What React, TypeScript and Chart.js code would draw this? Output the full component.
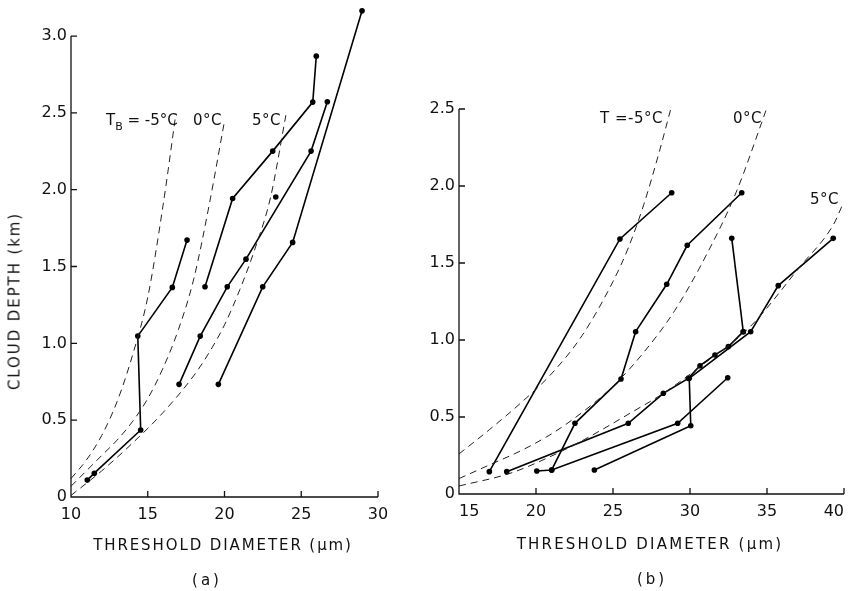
import React, { useEffect, useRef } from 'react';
import { Chart, registerables } from 'chart.js';

Chart.register(...registerables);

type P = [number, number];

// ---------- Panel (a): threshold diameter (µm) vs cloud depth (km) ----------
const aSeries1: P[] = [[11.06, 0.11], [11.52, 0.155], [14.54, 0.436], [14.35, 1.047], [16.6, 1.364], [17.56, 1.672]];
const aSeries2: P[] = [[18.73, 1.368], [20.53, 1.943], [23.14, 2.251], [25.75, 2.57], [25.98, 2.869]];
const aSeries3: P[] = [[17.04, 0.733], [18.42, 1.047], [20.18, 1.368], [21.4, 1.548], [25.64, 2.251], [26.7, 2.572]];
const aSeries4: P[] = [[19.6, 0.733], [22.49, 1.368], [24.44, 1.657], [28.96, 3.164]];
const aIsolated: P[] = [[23.34, 1.952]];
const aCurveM5: P[] = [[10, 0.12], [11, 0.24], [12, 0.4], [13, 0.62], [14, 0.92], [15, 1.3], [16, 1.9], [16.82, 2.485]];
const aCurve0: P[] = [[10, 0.07], [11, 0.17], [12, 0.27], [13, 0.37], [14, 0.49], [15, 0.64], [16, 0.84], [17, 1.09], [18, 1.42], [19, 1.9], [19.97, 2.43]];
const aCurve5: P[] = [[10, 0.01], [12, 0.17], [14, 0.35], [16, 0.55], [18, 0.79], [19, 0.94], [20, 1.12], [21, 1.35], [22, 1.62], [23, 1.95], [24, 2.485]];
const aXRange: P = [10, 30];
const aYRange: P = [0, 3.2];
const aYTop = 3.0;

// ---------- Panel (b) ----------
const bSeries1: P[] = [[16.97, 0.145], [25.45, 1.656], [28.81, 1.956]];
const bSeries2: P[] = [[18.1, 0.145], [25.99, 0.459], [28.27, 0.654], [29.89, 0.751], [30.65, 0.833], [31.62, 0.903], [32.49, 0.957], [33.46, 1.054]];
const bSeries3: P[] = [[21.02, 0.156], [22.53, 0.459], [25.52, 0.747], [26.47, 1.054], [28.49, 1.362], [29.82, 1.615], [33.36, 1.956]];
const bSeries4: P[] = [[20.05, 0.149], [21.02, 0.156], [29.2, 0.459], [32.45, 0.755]];
const bSeries5: P[] = [[23.79, 0.156], [30.05, 0.443], [29.95, 0.751], [33.94, 1.054], [35.73, 1.353], [39.3, 1.66]];
const bSeries6: P[] = [[32.71, 1.66], [33.46, 1.054]];
const bCurveM5: P[] = [[15, 0.26], [17, 0.42], [19, 0.59], [21, 0.78], [23, 1.03], [25, 1.38], [26, 1.6], [27, 1.88], [28, 2.22], [28.75, 2.5]];
const bCurve0: P[] = [[15, 0.1], [17, 0.19], [19, 0.28], [21, 0.39], [23, 0.53], [25, 0.7], [27, 0.92], [29, 1.19], [31, 1.54], [33, 1.96], [34.97, 2.5]];
const bCurve5: P[] = [[15, 0.052], [18.31, 0.134], [20.91, 0.242], [23.07, 0.35], [26.1, 0.524], [28.27, 0.654], [30.65, 0.827], [33.9, 1.086], [37.14, 1.476], [39.3, 1.747], [39.95, 1.888]];
const bXRange: P = [15, 40];
const bYRange: P = [0, 2.5];
const bYTop = 2.5;

const xStep = 5;
const yStep = 0.5;

const FONT = "'DejaVu Sans', sans-serif";
const INK = '#111';

const inwardAxes = {
  id: 'inwardAxes',
  afterDraw(chart: any, _args: any, opts: any) {
    const { ctx, chartArea: ca, scales } = chart;
    const x = scales.x;
    const y = scales.y;
    const topPx = y.getPixelForValue(opts.yTop);
    ctx.save();
    ctx.strokeStyle = INK;
    ctx.lineWidth = 1.3;
    ctx.beginPath();
    ctx.moveTo(ca.left, topPx);
    ctx.lineTo(ca.left, ca.bottom);
    ctx.lineTo(ca.right, ca.bottom);
    const L = 6;
    x.ticks.forEach((t: any) => {
      if (t.value === x.min) return;
      const px = x.getPixelForValue(t.value);
      ctx.moveTo(px, ca.bottom);
      ctx.lineTo(px, ca.bottom - L);
    });
    y.ticks.forEach((t: any) => {
      if (t.value === y.min || t.value > opts.yTop + 1e-9) return;
      const py = y.getPixelForValue(t.value);
      ctx.moveTo(ca.left, py);
      ctx.lineTo(ca.left + L, py);
    });
    ctx.stroke();
    ctx.restore();
  },
};

const toPts = (s: P[]) => s.map(([x, y]) => ({ x, y }));

function buildConfig(
  solid: P[][],
  curves: P[][],
  isolated: P[][],
  xr: P,
  yr: P,
  yTop: number,
  padding: { left: number; top: number; right: number; bottom: number },
  yWidth: number,
  xHeight: number,
  xAlign: string,
): any {
  const datasets: any[] = [
    ...curves.map((c) => ({
      data: toPts(c),
      showLine: true,
      borderColor: '#222',
      borderWidth: 1,
      borderDash: [7, 5],
      pointRadius: 0,
      cubicInterpolationMode: 'monotone',
      clip: false,
    })),
    ...solid.map((s) => ({
      data: toPts(s),
      showLine: true,
      borderColor: '#000',
      borderWidth: 1.6,
      pointRadius: 2.8,
      pointBackgroundColor: '#000',
      pointBorderWidth: 0,
      clip: false,
    })),
    ...isolated.map((s) => ({
      data: toPts(s),
      showLine: false,
      pointRadius: 2.8,
      pointBackgroundColor: '#000',
      pointBorderWidth: 0,
      clip: false,
    })),
  ];
  const tickFont = { family: FONT, size: 16 };
  return {
    type: 'scatter',
    data: { datasets },
    options: {
      animation: false,
      responsive: false,
      devicePixelRatio: 1,
      layout: { padding },
      plugins: { legend: { display: false }, tooltip: { enabled: false }, inwardAxes: { yTop } },
      scales: {
        x: {
          type: 'linear',
          min: xr[0],
          max: xr[1],
          grid: { display: false, drawTicks: false },
          border: { display: false },
          ticks: {
            stepSize: xStep,
            padding: 8,
            font: tickFont,
            color: INK,
            maxRotation: 0,
            autoSkip: false,
            includeBounds: false,
            align: xAlign,
          },
          afterFit(s: any) {
            s.height = xHeight;
            s.paddingLeft = 0;
            s.paddingRight = 0;
            s.paddingTop = 0;
            s.paddingBottom = 0;
          },
        },
        y: {
          type: 'linear',
          min: yr[0],
          max: yr[1],
          grid: { display: false, drawTicks: false },
          border: { display: false },
          ticks: {
            stepSize: yStep,
            padding: 4,
            font: tickFont,
            color: INK,
            autoSkip: false,
            includeBounds: false,
            callback: (v: any) => (Number(v) === 0 ? '0' : Number(v).toFixed(1)),
          },
          afterFit(s: any) {
            s.width = yWidth;
            s.paddingLeft = 0;
            s.paddingRight = 0;
            s.paddingTop = 0;
            s.paddingBottom = 0;
          },
        },
      },
    },
    plugins: [inwardAxes],
  };
}

function Txt(props: { x: number; y: number; size?: number; ls?: number; center?: boolean; rotate?: boolean; children: any }) {
  const { x, y, size = 15, ls = 0, center = true, rotate = false, children } = props;
  const transform = rotate
    ? 'translate(-50%,-50%) rotate(-90deg)'
    : center
      ? 'translate(-50%,-50%)'
      : 'translate(0,-50%)';
  return (
    <div
      style={{
        position: 'absolute',
        left: x,
        top: y,
        transform,
        fontFamily: FONT,
        fontSize: size,
        letterSpacing: ls,
        lineHeight: 1,
        whiteSpace: 'nowrap',
        color: INK,
      }}
    >
      {children}
    </div>
  );
}

export default function App() {
  const refA = useRef<HTMLCanvasElement>(null);
  const refB = useRef<HTMLCanvasElement>(null);

  useEffect(() => {
    const a = new Chart(
      refA.current as HTMLCanvasElement,
      buildConfig(
        [aSeries1, aSeries2, aSeries3, aSeries4],
        [aCurveM5, aCurve0, aCurve5],
        [aIsolated],
        aXRange,
        aYRange,
        aYTop,
        { left: 11, top: 5.3, right: 42, bottom: 54 },
        60,
        40,
        'center',
      ),
    );
    const b = new Chart(
      refB.current as HTMLCanvasElement,
      buildConfig(
        [bSeries1, bSeries2, bSeries3, bSeries4, bSeries5, bSeries6],
        [bCurveM5, bCurve0, bCurve5],
        [],
        bXRange,
        bYRange,
        bYTop,
        { left: 3, top: 109, right: 16, bottom: 57 },
        36,
        40,
        'inner',
      ),
    );
    return () => {
      a.destroy();
      b.destroy();
    };
  }, []);

  return (
    <div
      style={{
        position: 'absolute',
        left: 0,
        top: 0,
        width: 850,
        height: 591,
        overflow: 'hidden',
        background: '#fff',
      }}
    >
      <canvas ref={refA} width={420} height={591} style={{ position: 'absolute', left: 0, top: 0 }} />
      <canvas ref={refB} width={440} height={591} style={{ position: 'absolute', left: 420, top: 0 }} />

      <Txt x={15} y={301} size={15} ls={1.9} rotate>CLOUD DEPTH (km)</Txt>
      <Txt x={223} y={545} size={15} ls={1.9}>THRESHOLD DIAMETER (μm)</Txt>
      <Txt x={207} y={580} size={15} ls={3}>(a)</Txt>
      <Txt x={650} y={544} size={15} ls={2.2}>THRESHOLD DIAMETER (μm)</Txt>
      <Txt x={652} y={579} size={15} ls={3}>(b)</Txt>

      <Txt x={106} y={120} size={15} ls={0} center={false}>
        T<span style={{ fontSize: 11, position: 'relative', top: 5 }}>B</span> = -5°C
      </Txt>
      <Txt x={193} y={120} size={15} ls={0.5} center={false}>0°C</Txt>
      <Txt x={252} y={120} size={15} ls={0.5} center={false}>5°C</Txt>

      <Txt x={600} y={118} size={15} ls={0.5} center={false}>T =-5°C</Txt>
      <Txt x={733} y={118} size={15} ls={0.5} center={false}>0°C</Txt>
      <Txt x={810} y={199} size={15} ls={0.5} center={false}>5°C</Txt>
    </div>
  );
}
